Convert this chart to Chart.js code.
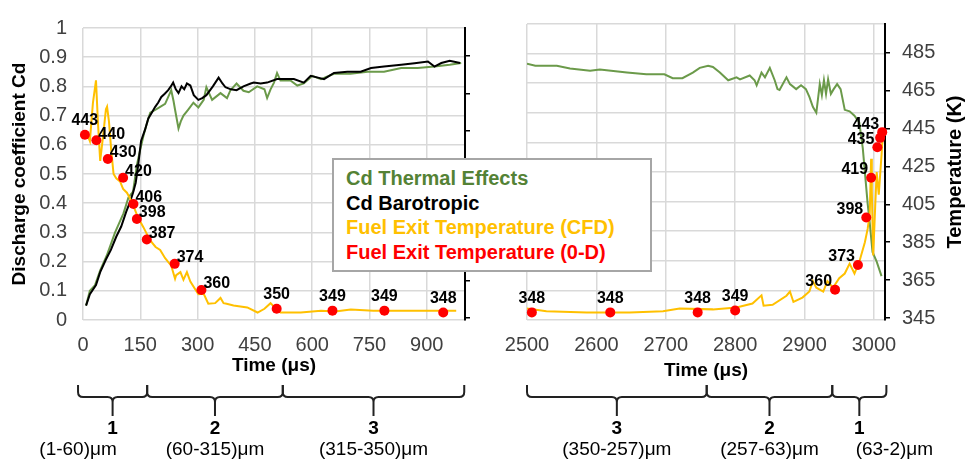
<!DOCTYPE html>
<html>
<head>
<meta charset="utf-8">
<script src="https://cdn.jsdelivr.net/npm/chart.js@4/dist/chart.umd.min.js"></script>
<style>
  body { margin: 0; background: #fff; width: 966px; height: 466px; position: relative; overflow: hidden; font-family: 'Liberation Sans', Arial, sans-serif; }
  #left { position: absolute; left: 0; top: 0; }
  #right { position: absolute; left: 480px; top: 0; }
  #legend { position: absolute; left: 332px; top: 158px; width: 320px; height: 114px; box-sizing: border-box;
            border: 2px solid #a6a6a6; background: #fff; padding: 6px 0 0 12px; font-weight: bold; font-size: 20px; line-height: 24.5px; }
</style>
</head>
<body>
<canvas id="left" width="500" height="466"></canvas>
<canvas id="right" width="486" height="466"></canvas>
<div id="legend">
  <div style="color:#548235">Cd Thermal Effects</div>
  <div style="color:#000">Cd Barotropic</div>
  <div style="color:#ffc000">Fuel Exit Temperature (CFD)</div>
  <div style="color:#ff0000">Fuel Exit Temperature (0-D)</div>
</div>
<script>
// --- tick labels ---
const cdTicks = [0, 0.1, 0.2, 0.3, 0.4, 0.5, 0.6, 0.7, 0.8, 0.9, 1];
const tempTicks = [345, 365, 385, 405, 425, 445, 465, 485];
const leftTimeTicks = [0, 150, 300, 450, 600, 750, 900];
const rightTimeTicks = [2500, 2600, 2700, 2800, 2900, 3000];

// --- left panel (0 - 1000 us) ---
const baroTime = [8,18,34,45,60,73,87,100,113,122,131,138,144,152,162,171,180,189,197,205,214,223,230,236,243,250,258,265,272,281,290,302,312,323,340,355,365,373,387,402,420,439,447,465,482,508,530,552,578,596,615,631,657,692,727,754,788,833,868,903,920,938,960,987];
const baroCd = [0.049,0.088,0.12,0.164,0.207,0.24,0.285,0.32,0.37,0.40,0.436,0.47,0.525,0.613,0.65,0.69,0.71,0.73,0.745,0.764,0.775,0.787,0.80,0.813,0.79,0.777,0.80,0.79,0.81,0.803,0.77,0.754,0.76,0.77,0.80,0.83,0.81,0.797,0.79,0.787,0.80,0.81,0.813,0.81,0.813,0.825,0.825,0.825,0.813,0.836,0.83,0.825,0.846,0.85,0.85,0.863,0.868,0.874,0.879,0.885,0.868,0.88,0.888,0.88];

const thermTimeL = [8,18,31,45,62,84,106,119,131,141,150,160,171,176,190,202,215,231,237,241,250,256,263,275,289,302,316,323,338,360,377,386,402,420,434,456,475,482,491,500,508,517,543,561,578,600,623,657,700,745,788,833,876,920,960,990];
const thermCdL = [0.05,0.1,0.118,0.17,0.22,0.30,0.365,0.42,0.44,0.53,0.585,0.64,0.69,0.71,0.72,0.73,0.74,0.787,0.75,0.72,0.656,0.68,0.70,0.72,0.744,0.728,0.754,0.797,0.754,0.777,0.76,0.787,0.81,0.785,0.78,0.80,0.79,0.76,0.79,0.813,0.846,0.82,0.82,0.803,0.81,0.836,0.825,0.843,0.843,0.85,0.85,0.863,0.863,0.868,0.874,0.88];

const cfdTimeL = [8,18,26,34,39,45,53,60,63,68,74,80,87,97,105,115,123,132,144,158,167,176,190,202,215,231,241,244,255,263,272,281,302,316,328,346,360,368,376,394,430,457,475,491,505,517,570,623,660,701,760,833,900,977];
const cfdTempL = [444.8,439.6,460,472,450,429,443,456.6,458,450,434.5,422,419.7,418,414,412,409,405,398.7,393.6,390,386.5,383,381.4,377,373,366,368,369.6,365.5,369.6,364.5,357.8,358,352.7,353,355.8,353,352.7,351.7,350.7,348,350,353,350,348,348,349,348.5,349.6,349,349,349,349];

const odTimeL = [5,35,65,105,132,141,167,240,310,507,653,789,943];
const odTempL = [443,440,430,420,406,398,387,374,360,350,349,349,348];

// --- right panel (2500 - 3016 us) ---
const thermTimeR = [2500,2512,2543,2562,2591,2605,2644,2672,2698,2710,2724,2739,2749,2761,2768,2778,2790,2802,2807,2821,2828,2831,2838,2843,2850,2857,2861,2864,2874,2879,2888,2895,2902,2907,2912,2917,2922,2925,2928,2931,2934,2938,2942,2947,2952,2958,2965,2972,2979,2984,2991,2994,2998,3004,3011];
const thermCdR = [0.866,0.859,0.859,0.85,0.842,0.846,0.836,0.83,0.83,0.817,0.817,0.836,0.852,0.859,0.855,0.836,0.81,0.82,0.813,0.826,0.81,0.793,0.836,0.82,0.852,0.81,0.78,0.777,0.82,0.797,0.78,0.793,0.78,0.754,0.72,0.70,0.797,0.76,0.81,0.764,0.813,0.764,0.78,0.797,0.78,0.71,0.705,0.69,0.667,0.58,0.393,0.328,0.23,0.197,0.148];

const cfdTimeR = [2500,2528,2586,2648,2696,2720,2768,2802,2825,2838,2841,2854,2874,2879,2884,2897,2907,2912,2917,2927,2933,2941,2950,2958,2965,2972,2979,2987,2991,2994,2996,2997,2999,3002,3004,3007,3011,3013];
const cfdTempR = [350,348.6,348,348,348.6,350,349.6,350.6,352.7,357,351.5,352,356.8,359,353.5,355.8,359,364.5,361,359,364.5,361,366,368.5,373.7,368.5,374.7,385,392,400,429,412,378,405,422,410,431,443];

const odTimeR = [2507,2620,2746,2800,2944,2977,2989,2996,3005,3009,3012];
const odTempR = [348,348,348,349,360,373,398,419,435,440,443];
const odLabelR = ['348','348','348','349','360','373','398','419','435','','443'];

// label side: a = above, r = right, l = left
const odSideL = ['a','r','r','r','r','r','r','r','r','a','a','a','a'];
const odSideR = ['a','a','a','a','l','l','l','l','l','l','l'];

// --- zone braces under the time axes ---
const zonesL = [[-13, 168], [168, 523], [523, 998]];
const zoneNumL = ['1', '2', '3'];
const zoneTextL = ['(1-60)μm', '(60-315)μm', '(315-350)μm'];
const zoneAnchorL = ['start', 'mid', 'mid'];
const zonesR = [[2500, 2759], [2759, 2940], [2940, 3018]];
const zoneNumR = ['3', '2', '1'];
const zoneTextR = ['(350-257)μm', '(257-63)μm', '(63-2)μm'];
const zoneAnchorR = ['mid', 'mid', 'end'];

Chart.defaults.font.family = "'Liberation Sans', Arial, sans-serif";
Chart.defaults.color = '#404040';

const xy = (xs, ys) => xs.map((x, i) => ({ x: x, y: ys[i] }));
const GRID = '#d9d9d9';

function drawBrace(ctx, x1, x2) {
    const yTop = 385, yMid = 397, yTip = 416, r = 5;
    const xc = (x1 + x2) / 2;
    ctx.beginPath();
    ctx.moveTo(x1, yTop);
    ctx.lineTo(x1, yMid - r);
    ctx.quadraticCurveTo(x1, yMid, x1 + r, yMid);
    ctx.lineTo(xc - r, yMid);
    ctx.quadraticCurveTo(xc, yMid, xc, yMid + r);
    ctx.lineTo(xc, yTip);
    ctx.moveTo(xc, yMid + r);
    ctx.quadraticCurveTo(xc, yMid, xc + r, yMid);
    ctx.lineTo(x2 - r, yMid);
    ctx.quadraticCurveTo(x2, yMid, x2, yMid - r);
    ctx.lineTo(x2, yTop);
    ctx.stroke();
}

const extrasPlugin = {
    id: 'extras',
    afterDatasetsDraw(chart, args, opts) {
        const ctx = chart.ctx;
        ctx.save();
        // point labels of the 0-D model
        chart.data.datasets.forEach((ds, i) => {
            if (!ds.pointText) return;
            const meta = chart.getDatasetMeta(i);
            ctx.font = "bold 16px 'Liberation Sans', Arial, sans-serif";
            ctx.fillStyle = '#000';
            ctx.textBaseline = 'middle';
            meta.data.forEach((pt, j) => {
                const side = ds.pointSide[j];
                if (side === 'a') { ctx.textAlign = 'center'; ctx.fillText(ds.pointText[j], pt.x, pt.y - 14); }
                else if (side === 'r') { ctx.textAlign = 'left'; ctx.fillText(ds.pointText[j], pt.x + 2, pt.y - 6); }
                else { ctx.textAlign = 'right'; ctx.fillText(ds.pointText[j], pt.x - 3, pt.y - 8); }
            });
        });
        // zone braces
        const xs = chart.scales.x;
        ctx.strokeStyle = '#222';
        ctx.lineWidth = 2;
        ctx.fillStyle = '#000';
        ctx.textAlign = 'center';
        ctx.textBaseline = 'middle';
        opts.zones.forEach((z, k) => {
            const x1 = xs.getPixelForValue(z[0]), x2 = xs.getPixelForValue(z[1]);
            const xc = (x1 + x2) / 2;
            drawBrace(ctx, x1, x2);
            ctx.font = "bold 19px 'Liberation Sans', Arial, sans-serif";
            ctx.fillText(opts.nums[k], xc, 429);
            const a = opts.anchors[k];
            const xt = a === 'start' ? x1 : (a === 'end' ? x2 + 8 : xc);
            ctx.font = "19px 'Liberation Sans', Arial, sans-serif";
            ctx.fillText(opts.texts[k], xt, 450);
        });
        // rotated right-hand title
        if (opts.rightTitle) {
            ctx.translate(opts.rightTitleX, (chart.chartArea.top + chart.chartArea.bottom) / 2);
            ctx.rotate(-Math.PI / 2);
            ctx.font = "bold 20px 'Liberation Sans', Arial, sans-serif";
            ctx.fillText(opts.rightTitle, 0, 0);
        }
        ctx.restore();
    }
};

function timeAxis(min, max, ticks, titleBottomPad, height) {
    return {
        type: 'linear', min: min, max: max,
        afterBuildTicks: s => { s.ticks = ticks.map(v => ({ value: v })); },
        grid: { color: GRID, lineWidth: 1.5, drawTicks: false },
        border: { display: false },
        ticks: { padding: 13, font: { size: 20 }, callback: v => String(v) },
        title: { display: true, text: 'Time (μs)', color: '#000', font: { size: 19, weight: 'bold' }, padding: { top: 0, bottom: titleBottomPad } },
        afterFit: s => { s.height = height; }
    };
}

function tempAxis(showLabels, width) {
    return {
        type: 'linear', position: 'right', min: 344, max: 500,
        afterBuildTicks: s => { s.ticks = tempTicks.map(v => ({ value: v })); },
        grid: { drawOnChartArea: false, drawTicks: true, tickLength: 5, color: '#000', lineWidth: 1.5 },
        border: { display: true, color: '#000', width: 2 },
        ticks: { display: showLabels, padding: 12, font: { size: 20 } },
        afterFit: s => { s.width = width; }
    };
}

function cdAxis(showLabels, width) {
    return {
        type: 'linear', position: 'left', min: 0, max: 1,
        afterBuildTicks: s => { s.ticks = cdTicks.map(v => ({ value: v })); },
        grid: { color: GRID, lineWidth: 1.5, drawTicks: false },
        border: { display: false },
        ticks: { display: showLabels, padding: 16, font: { size: 20 }, callback: v => String(Math.round(v * 10) / 10) },
        title: { display: showLabels, text: 'Discharge coefficient Cd', color: '#000', font: { size: 19, weight: 'bold' }, padding: { top: 8, bottom: 0 } },
        afterFit: s => { s.width = width; }
    };
}

const commonOpts = {
    responsive: false, animation: false, devicePixelRatio: 1,
    plugins: { legend: { display: false }, tooltip: { enabled: false } }
};

new Chart(document.getElementById('left'), {
    type: 'scatter',
    data: {
        datasets: [
            { label: 'Fuel Exit Temperature (0-D)', data: xy(odTimeL, odTempL), yAxisID: 'yT', showLine: false,
              pointRadius: 5, pointBackgroundColor: '#ff0000', pointBorderWidth: 0, clip: false,
              pointText: odTempL.map(String), pointSide: odSideL },
            { label: 'Fuel Exit Temperature (CFD)', data: xy(cfdTimeL, cfdTempL), yAxisID: 'yT', showLine: true,
              borderColor: '#ffc000', borderWidth: 2, pointRadius: 0 },
            { label: 'Cd Barotropic', data: xy(baroTime, baroCd), yAxisID: 'y', showLine: true,
              borderColor: '#000000', borderWidth: 2, pointRadius: 0 },
            { label: 'Cd Thermal Effects', data: xy(thermTimeL, thermCdL), yAxisID: 'y', showLine: true,
              borderColor: '#6b9a4a', borderWidth: 2, pointRadius: 0 }
        ]
    },
    options: Object.assign({}, commonOpts, {
        layout: { padding: { top: 15, bottom: 86, left: 0, right: 0 } },
        scales: {
            x: timeAxis(0, 1000, leftTimeTicks, 3, 60),
            y: cdAxis(true, 83),
            yT: tempAxis(false, 35)
        },
        plugins: Object.assign({}, commonOpts.plugins, {
            extras: { zones: zonesL, nums: zoneNumL, texts: zoneTextL, anchors: zoneAnchorL }
        })
    }),
    plugins: [extrasPlugin]
});

new Chart(document.getElementById('right'), {
    type: 'scatter',
    data: {
        datasets: [
            { label: 'Fuel Exit Temperature (0-D)', data: xy(odTimeR, odTempR), yAxisID: 'yT', showLine: false,
              pointRadius: 5, pointBackgroundColor: '#ff0000', pointBorderWidth: 0, clip: false,
              pointText: odLabelR, pointSide: odSideR },
            { label: 'Fuel Exit Temperature (CFD)', data: xy(cfdTimeR, cfdTempR), yAxisID: 'yT', showLine: true,
              borderColor: '#ffc000', borderWidth: 2, pointRadius: 0 },
            { label: 'Cd Thermal Effects', data: xy(thermTimeR, thermCdR), yAxisID: 'y', showLine: true,
              borderColor: '#6b9a4a', borderWidth: 2, pointRadius: 0 }
        ]
    },
    options: Object.assign({}, commonOpts, {
        layout: { padding: { top: 15, bottom: 81, left: 0, right: 0 } },
        scales: {
            x: timeAxis(2500, 3016, rightTimeTicks, 3, 65),
            y: cdAxis(false, 47),
            yT: tempAxis(true, 81)
        },
        plugins: Object.assign({}, commonOpts.plugins, {
            extras: { zones: zonesR, nums: zoneNumR, texts: zoneTextR, anchors: zoneAnchorR,
                      rightTitle: 'Temperature (K)', rightTitleX: 475 }
        })
    }),
    plugins: [extrasPlugin]
});
</script>
</body>
</html>
